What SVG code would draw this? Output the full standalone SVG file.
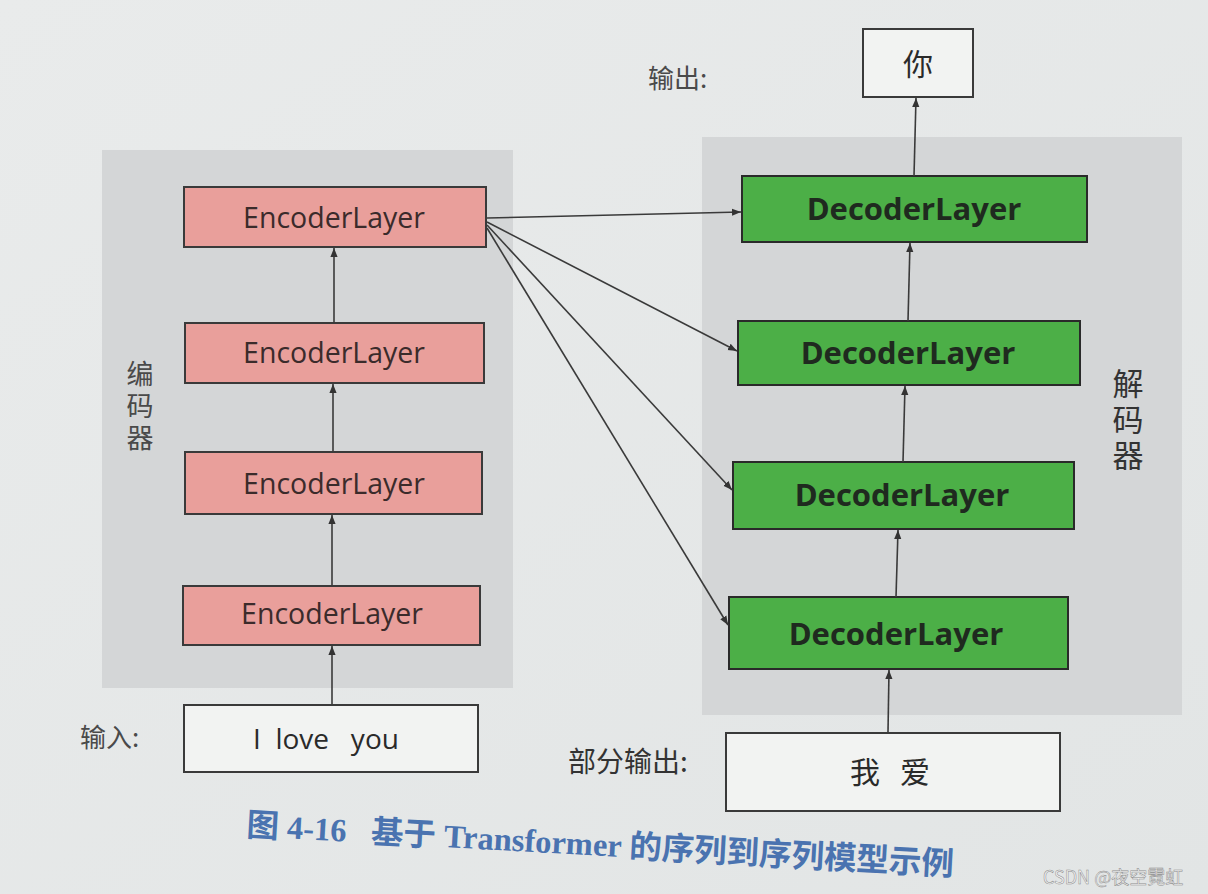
<svg xmlns="http://www.w3.org/2000/svg" width="1208" height="894" viewBox="0 0 1208 894">
<defs>
<linearGradient id="bg" x1="0" y1="0" x2="1" y2="1">
<stop offset="0" stop-color="#e9ebeb"/>
<stop offset="1" stop-color="#e2e5e5"/>
</linearGradient>
<marker id="ah" viewBox="0 0 10 10" refX="10" refY="5" markerWidth="9" markerHeight="9" markerUnits="userSpaceOnUse" orient="auto">
<path d="M0,1 L10,5 L0,9 Z" fill="#333"/>
</marker>
</defs>
<style>
.panel{fill:#d4d6d7}
.enc rect{fill:#e99f9b;stroke:#3a3a3a;stroke-width:2}
.dec rect{fill:#4caf47;stroke:#2a2a2a;stroke-width:2}
.io rect{fill:#f2f3f2;stroke:#3a3a3a;stroke-width:2}
.et{font-family:"Open Sans","Noto Sans",sans-serif;font-size:28.5px;fill:#3b2b2b;text-anchor:middle}
.dt{font-family:"Open Sans","Noto Sans",sans-serif;font-size:31px;font-weight:bold;fill:#1f2a1f;text-anchor:middle}
.lbl{font-family:"Noto Sans CJK SC",sans-serif;font-size:26px;fill:#4a4a4a}
.vl{font-family:"Noto Sans CJK SC",sans-serif;writing-mode:vertical-rl;letter-spacing:5px}
.iot{font-family:"Open Sans","Noto Sans CJK SC",sans-serif;font-size:28px;fill:#2a2a2a;text-anchor:middle}
.conn line{stroke:#3a3a3a;stroke-width:1.6;marker-end:url(#ah)}
</style>
<rect width="1208" height="894" fill="url(#bg)"/>
<rect class="panel" x="102" y="150" width="411" height="538"/>
<rect class="panel" x="702" y="137" width="480" height="578"/>
<text class="vl" x="140" y="360" style="font-size:27px;fill:#4a4a4a">编码器</text>
<text class="vl" x="1128" y="368" style="font-size:31px;fill:#333">解码器</text>
<g id="enc4" class="enc"><rect x="184" y="187" width="302" height="60"/><text class="et" x="334" y="228">EncoderLayer</text></g>
<g id="enc3" class="enc"><rect x="185" y="323" width="299" height="60"/><text class="et" x="334" y="363">EncoderLayer</text></g>
<g id="enc2" class="enc"><rect x="185" y="452" width="297" height="62"/><text class="et" x="334" y="494">EncoderLayer</text></g>
<g id="enc1" class="enc"><rect x="183" y="586" width="297" height="59"/><text class="et" x="332" y="624">EncoderLayer</text></g>
<g id="dec4" class="dec"><rect x="742" y="176" width="345" height="66"/><text class="dt" x="914" y="220">DecoderLayer</text></g>
<g id="dec3" class="dec"><rect x="738" y="321" width="342" height="64"/><text class="dt" x="908" y="364">DecoderLayer</text></g>
<g id="dec2" class="dec"><rect x="733" y="462" width="341" height="67"/><text class="dt" x="902" y="506">DecoderLayer</text></g>
<g id="dec1" class="dec"><rect x="729" y="597" width="339" height="72"/><text class="dt" x="896" y="645">DecoderLayer</text></g>
<g id="input" class="io"><rect x="184" y="705" width="294" height="67"/><text class="iot" x="326" y="749" xml:space="preserve">I  love   you</text></g>
<text class="lbl" x="80" y="747">输入:</text>
<g id="partial" class="io"><rect x="726" y="733" width="334" height="78"/><text class="iot" x="890" y="783" xml:space="preserve" style="font-family:'Noto Sans CJK SC',sans-serif;font-size:30px">我   爱</text></g>
<text class="lbl" x="568" y="772" style="font-size:28px;fill:#333">部分输出:</text>
<g id="output" class="io"><rect x="863" y="29" width="110" height="68"/><text class="iot" x="918" y="75" style="font-family:'Noto Sans CJK SC',sans-serif;font-size:30px">你</text></g>
<text class="lbl" x="648" y="88">输出:</text>
<g id="connectors" class="conn">
<line x1="332" y1="704" x2="332" y2="646"/>
<line x1="332" y1="586" x2="332" y2="515"/>
<line x1="333" y1="452" x2="333" y2="384"/>
<line x1="334" y1="323" x2="334" y2="248"/>
<line x1="487" y1="218" x2="741" y2="212"/>
<line x1="487" y1="222" x2="737" y2="351"/>
<line x1="487" y1="225" x2="732" y2="490"/>
<line x1="487" y1="228" x2="728" y2="625"/>
<line x1="888" y1="732" x2="889" y2="670"/>
<line x1="896" y1="597" x2="898" y2="530"/>
<line x1="903" y1="462" x2="905" y2="386"/>
<line x1="908" y1="321" x2="910" y2="243"/>
<line x1="914" y1="176" x2="916" y2="98"/>
</g>
<text transform="translate(246,836) rotate(3.2)" xml:space="preserve" style="font-family:'Liberation Serif','Noto Sans CJK SC',serif;font-size:32.5px;font-weight:bold;fill:#4a73b0">图 4-16   基于 Transformer 的序列到序列模型示例</text>
<text x="1043" y="884" style="font-family:'Noto Sans CJK SC',sans-serif;font-size:18px;fill:#f7f7f7;stroke:#8a8a8a;stroke-width:0.5">CSDN @夜空霓虹</text>
</svg>
